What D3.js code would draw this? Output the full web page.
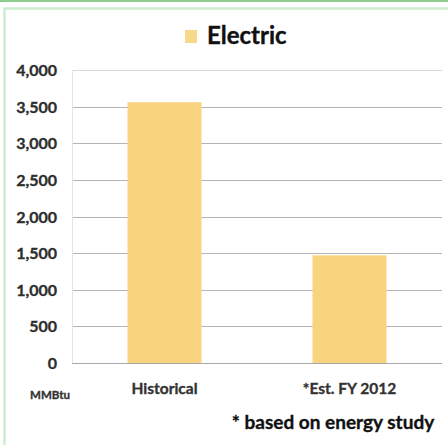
<!DOCTYPE html>
<html><head><meta charset="utf-8">
<script src="https://cdn.jsdelivr.net/npm/d3@7"></script>
<style>html,body{margin:0;padding:0;background:#fff;}svg{display:block;}</style>
</head><body>
<script>
const categories = ["Historical", "*Est. FY 2012"];
const electricValues = [3560, 1470];
const yTicks = [0, 500, 1000, 1500, 2000, 2500, 3000, 3500, 4000];
const seriesName = "Electric";
const unitLabel = "MMBtu";
const footnote = "* based on energy study";

const W = 448, H = 445;
const svg = d3.select("body").append("svg").attr("width", W).attr("height", H);
const font = "Lato, 'Open Sans', sans-serif";

// frame
svg.append("line").attr("x1",0).attr("x2",W).attr("y1",1).attr("y2",1)
  .attr("stroke","#8fce8f").attr("stroke-width",2);
svg.append("rect").attr("x",4.5).attr("y",8.5).attr("width",W).attr("height",H)
  .attr("fill","none").attr("stroke","#cdebcd").attr("stroke-width",2.5);

const x = d3.scaleBand().domain(categories).range([72, 442]).paddingInner(0.6).paddingOuter(0.3);
const y = d3.scaleLinear().domain([0, 4000]).range([363, 70]);

// gridlines
svg.append("g").selectAll("line").data(yTicks.filter(d=>d>0)).join("line")
  .attr("x1",72).attr("x2",442).attr("y1",d=>Math.round(y(d))+0.5).attr("y2",d=>Math.round(y(d))+0.5)
  .attr("stroke", d=> d===4000 ? "#d8d8d8" : "#b4b4b4").attr("stroke-width",1);
svg.append("line").attr("x1",72.5).attr("x2",72.5).attr("y1",y(4000)).attr("y2",y(0))
  .attr("stroke","#e4e4e4");

// bars
svg.append("g").selectAll("rect").data(categories).join("rect")
  .attr("x", d=>x(d)).attr("width", x.bandwidth())
  .attr("y", (d,i)=>y(electricValues[i])).attr("height",(d,i)=>y(0)-y(electricValues[i]))
  .attr("fill","#f9d47e");

// baseline
svg.append("line").attr("x1",72).attr("x2",442).attr("y1",Math.round(y(0))+0.5).attr("y2",Math.round(y(0))+0.5)
  .attr("stroke","#a8a8a8").attr("stroke-width",1.2);

function heavy(sel, color){
  sel.attr("font-family",font).attr("font-weight","bold").attr("fill",color)
    .attr("stroke",color).attr("stroke-width",0.35);
}

// y axis labels
const yAxis = d3.axisLeft(y).tickValues(yTicks).tickFormat(d3.format(",")).tickSize(0).tickPadding(0);
const ya = svg.append("g").attr("transform","translate(57,0)").call(yAxis);
ya.select(".domain").remove();
ya.selectAll("text").call(heavy,"#2e2e2e").attr("font-size",16).attr("dy","0.35em");

// x axis labels
const xAxis = d3.axisBottom(x).tickSize(0).tickPadding(0);
const xa = svg.append("g").attr("transform","translate(0,394)").call(xAxis);
xa.select(".domain").remove();
xa.selectAll("text").call(heavy,"#333").attr("font-size",15.5).attr("dy",0);

svg.append("text").attr("x",50).attr("y",399).attr("text-anchor","middle")
  .call(heavy,"#333").attr("font-size",11.5).text(unitLabel);

// legend / title
svg.append("rect").attr("x",185).attr("y",30).attr("width",12).attr("height",13).attr("fill","#f8d98c");
svg.append("text").attr("x",207).attr("y",44).call(heavy,"#111")
  .attr("font-size",24).text(seriesName);

svg.append("text").attr("x",333).attr("y",429).attr("text-anchor","middle")
  .call(heavy,"#111").attr("font-size",19).text(footnote);
</script>
</body></html>
